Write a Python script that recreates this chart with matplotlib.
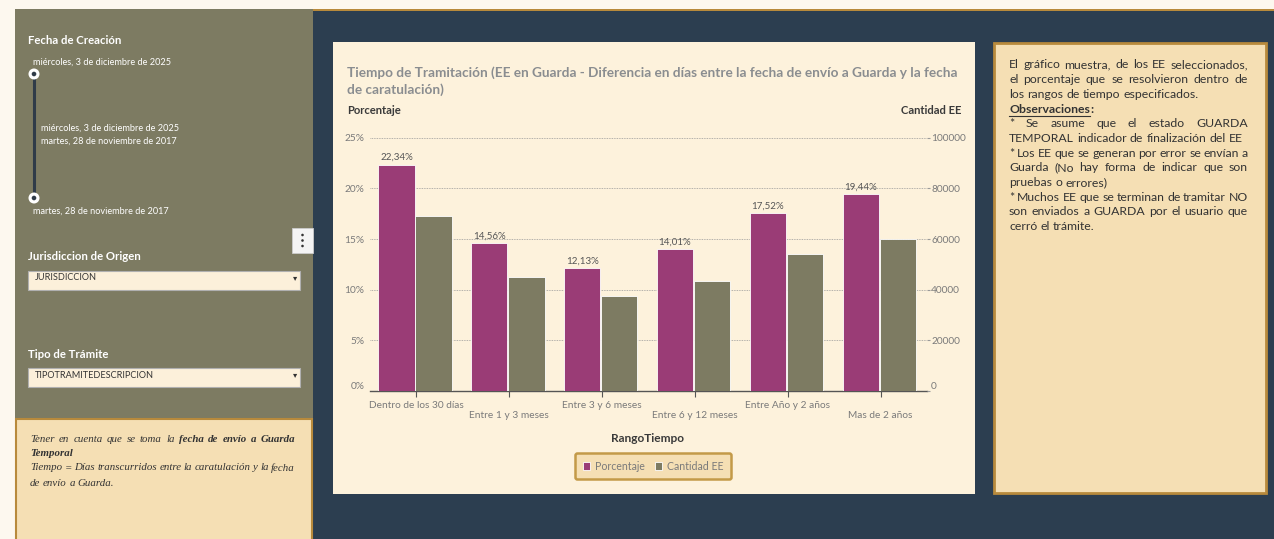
import matplotlib
matplotlib.use("Agg")
import matplotlib.pyplot as plt
from matplotlib.patches import Rectangle, Circle
from matplotlib.lines import Line2D
import numpy as np

# ---------------- data ----------------
categories = ["Dentro de los 30 días", "Entre 1 y 3 meses", "Entre 3 y 6 meses",
              "Entre 6 y 12 meses", "Entre Año y 2 años", "Mas de 2 años"]
porcentaje = [22.34, 14.56, 12.13, 14.01, 17.52, 19.44]
cantidad_ee = [69000, 44970, 37470, 43270, 54110, 60040]
pct_ticks = [0, 5, 10, 15, 20, 25]
cnt_ticks = [0, 20000, 40000, 60000, 80000, 100000]

# ---------------- style ----------------
W, H = 1274, 539
FONT = ["Lato", "DejaVu Sans"]
plt.rcParams["font.family"] = FONT
PURPLE = "#9a3c76"
OLIVE = "#7d7b62"
NAVY = "#2c3e50"
CREAM = "#fdf2dc"
BEIGE = "#f5dfb4"
BROWN = "#b88a3c"
GRAYTXT = "#7a7a7a"

fig = plt.figure(figsize=(W / 100, H / 100), dpi=100, facecolor="#fdf8ef")
bg = fig.add_axes([0, 0, 1, 1], zorder=0)
bg.set_xlim(0, W)
bg.set_ylim(H, 0)
bg.axis("off")
renderer = fig.canvas.get_renderer()


def rect(x0, y0, x1, y1, fc, ec="none", lw=0, z=1):
    bg.add_patch(Rectangle((x0, y0), x1 - x0, y1 - y0, facecolor=fc,
                           edgecolor=ec, linewidth=lw, zorder=z))


def txt(x, y, s, **kw):
    return bg.text(x, y, s, **kw)


def justify(words, x0, x1, y, do_justify=True, **kw):
    """words: list of (word, extra_kw). Places words across x0..x1."""
    objs = []
    widths = []
    for w, ekw in words:
        k = dict(kw)
        k.update(ekw)
        t = bg.text(0, y, w, va="center", ha="left", **k)
        widths.append(t.get_window_extent(renderer).width)
        objs.append(t)
    if do_justify and len(objs) > 1:
        gap = (x1 - x0 - sum(widths)) / (len(objs) - 1)
    else:
        sp = bg.text(0, y, "a a", **kw)
        sp2 = bg.text(0, y, "aa", **kw)
        gap = sp.get_window_extent(renderer).width - sp2.get_window_extent(renderer).width
        sp.remove()
        sp2.remove()
    x = x0
    for t, w in zip(objs, widths):
        t.set_x(x)
        x += w + gap
    return objs


# ---------------- backgrounds ----------------
rect(15, 9, 313, 420, OLIVE)
rect(313, 9, W, H, NAVY)
rect(313, 9, W, 11, BROWN, z=2)
rect(333, 42, 975, 494, CREAM, z=2)
rect(994, 43, 1266, 493, BEIGE, ec=BROWN, lw=2, z=2)
rect(16, 419, 312, 545, BEIGE, ec=BROWN, lw=1.5, z=2)

# ---------------- sidebar ----------------
SB = dict(color="white", fontsize=8.2, fontweight="bold", va="center", zorder=3)
SM = dict(color="white", fontsize=6.6, va="center", zorder=3)
txt(28, 40, "Fecha de Creación", **SB)
txt(33, 62, "miércoles, 3 de diciembre de 2025", **SM)
bg.add_line(Line2D([34, 34], [74, 198], color="#2f3b48", lw=2.2, zorder=3))
for yy in (74, 198):
    bg.add_patch(Circle((34, yy), 5.5, facecolor="white", edgecolor="none", zorder=4))
    bg.add_patch(Circle((34, yy), 2.3, facecolor="#2f3b48", edgecolor="none", zorder=5))
txt(41, 128, "miércoles, 3 de diciembre de 2025", **SM)
txt(41, 141, "martes, 28 de noviembre de 2017", **SM)
txt(33, 211, "martes, 28 de noviembre de 2017", **SM)
# kebab button
rect(292, 228, 313, 253, "#f4f4f4", ec="#cccccc", lw=0.6, z=3)
for yy in (235, 240.5, 246):
    bg.add_patch(Circle((302.5, yy), 1.3, facecolor="#333333", zorder=4))

txt(28, 257, "Jurisdiccion de Origen", **SB)
rect(28, 271, 300, 290, "#fcf0da", ec="#b0b0b0", lw=0.8, z=3)
txt(35, 278, "JURISDICCION", color="#333333", fontsize=6.6, va="center", zorder=4)
txt(295, 278, "▾", color="#333333", fontsize=6, va="center", ha="center", zorder=4)

txt(28, 354, "Tipo de Trámite", **SB)
rect(28, 368, 300, 387, "#fcf0da", ec="#b0b0b0", lw=0.8, z=3)
txt(35, 375, "TIPOTRAMITEDESCRIPCION", color="#333333", fontsize=6.6, va="center",
    zorder=4)
txt(295, 375, "▾", color="#333333", fontsize=6, va="center", ha="center", zorder=4)

# bottom-left note (serif italic, justified)
SER = dict(family=["Liberation Serif", "DejaVu Serif"], style="italic",
           fontsize=7.8, color="#333333", zorder=4)
B = {"fontweight": "bold"}
N = {}
line1 = [("Tener", N), ("en", N), ("cuenta", N), ("que", N), ("se", N), ("toma", N),
         ("la", N), ("fecha", B), ("de", B), ("envío", B), ("a", B), ("Guarda", B)]
justify(line1, 30, 295, 440, True, **SER)
justify([("Temporal", B)], 30, 295, 454, False, **SER)
line3 = [(w, N) for w in "Tiempo = Días transcurridos entre la caratulación y la fecha".split()]
justify(line3, 30, 295, 468, True, **SER)
justify([(w, N) for w in "de envío a Guarda.".split()], 30, 295, 483, False, **SER)

# ---------------- right note ----------------
RT = dict(fontsize=8.8, color="#333333", zorder=4)
rlines = [
    ("El gráfico muestra, de los EE seleccionados,", True),
    ("el porcentaje que se resolvieron dentro de", True),
    ("los rangos de tiempo especificados.", False),
    (None, None),
    ("* Se asume que el estado GUARDA", True),
    ("TEMPORAL indicador de finalización del EE", False),
    ("* Los EE que se generan por error se envían a", True),
    ("Guarda (No hay forma de indicar que son", True),
    ("pruebas o errores)", False),
    ("* Muchos EE que se terminan de tramitar NO", True),
    ("son enviados a GUARDA por el usuario que", True),
    ("cerró el trámite.", False),
]
y = 65
for s, j in rlines:
    if s is None:
        t1 = bg.text(1009, y, "Observaciones", fontweight="bold", va="center",
                     **RT)
        w1 = t1.get_window_extent(renderer).width
        bg.text(1009 + w1, y, ":", fontweight="bold", va="center", **RT)
        bg.add_line(Line2D([1009, 1009 + w1], [y + 6.5, y + 6.5], color="#333333",
                           lw=0.8, zorder=4))
    else:
        justify([(w, N) for w in s.split()], 1009, 1248, y, j, **RT)
    y += 14.7

# ---------------- chart ----------------
txt(347, 81, "Tiempo de Tramitación (EE en Guarda - Diferencia en días entre la fecha de envío a Guarda y la fecha\nde caratulación)",
    color="#8a8d90", fontsize=9.8, fontweight="bold", va="center", linespacing=1.4,
    zorder=4)
txt(347, 111, "Porcentaje", color="#3a3a3a", fontsize=8.1, fontweight="bold",
    va="center", zorder=4)
txt(961, 111, "Cantidad EE", color="#3a3a3a", fontsize=8.1, fontweight="bold",
    va="center", ha="right", zorder=4)
txt(647, 439, "RangoTiempo", color="#3a3a3a", fontsize=8.6, fontweight="bold",
    va="center", ha="center", zorder=4)

ax = fig.add_axes([370 / W, 1 - 391 / H, (927 - 370) / W, (391 - 137.7) / H],
                  zorder=3)
ax.set_facecolor("none")
x = np.arange(len(categories))
bw = 0.39
b1 = ax.bar(x - 0.215, porcentaje, bw, color=PURPLE, edgecolor="white",
            linewidth=0.6, label="Porcentaje", zorder=3)
ax.set_xlim(-0.5, len(categories) - 0.5)
ax.set_ylim(0, 25)
ax.set_yticks(pct_ticks)
ax.set_yticklabels([f"{v}%" for v in pct_ticks])
for v in pct_ticks[1:]:
    ax.axhline(v, color="#9a9a9a", lw=0.6, ls=(0, (1, 1)), zorder=1)
for xi, v in zip(x, porcentaje):
    ax.annotate(f"{v:.2f}%".replace(".", ","), (xi - 0.215, v), xytext=(0, 2),
                textcoords="offset points", ha="center", va="bottom",
                fontsize=7, color="#555555")
ax.set_xticks(x)
ax.set_xticklabels([c if i % 2 == 0 else "\n" + c for i, c in enumerate(categories)])
ax.tick_params(axis="x", length=4, color="#555555", labelsize=7.3,
               labelcolor=GRAYTXT, pad=3)
ax.tick_params(axis="y", length=0, labelsize=7.3, labelcolor=GRAYTXT, pad=4)
for sp in ("top", "right", "left"):
    ax.spines[sp].set_visible(False)
ax.spines["bottom"].set_color("#555555")
ax.spines["bottom"].set_linewidth(1)
ax.get_yticklabels()[0].set_va("bottom")

ax2 = ax.twinx()
b2 = ax2.bar(x + 0.185, cantidad_ee, bw, color=OLIVE, edgecolor="white",
             linewidth=0.6, label="Cantidad EE", zorder=3)
ax2.set_ylim(0, 100000)
ax2.set_yticks(cnt_ticks)
ax2.set_yticklabels([str(v) for v in cnt_ticks])
ax2.tick_params(axis="y", length=2.5, color="#9a9a9a", labelsize=7.3,
                labelcolor=GRAYTXT, pad=0.5)
for sp in ("top", "right", "left", "bottom"):
    ax2.spines[sp].set_visible(False)
ax2.get_yticklabels()[0].set_va("bottom")

leg = ax2.legend(handles=[b1, b2], labels=["Porcentaje", "Cantidad EE"],
                 loc="center", bbox_to_anchor=(653 / W, 1 - 466 / H),
                 bbox_transform=fig.transFigure, ncol=2, fontsize=7.6,
                 frameon=True, fancybox=True, handlelength=0.7, handleheight=0.7,
                 handletextpad=0.4, columnspacing=1.0, borderpad=0.75,
                 labelcolor=GRAYTXT)
fr = leg.get_frame()
fr.set_facecolor(BEIGE)
fr.set_edgecolor("#c39a48")
fr.set_linewidth(1.8)
fr.set_alpha(1)

fig.savefig("out.png", dpi=100, facecolor=fig.get_facecolor())
